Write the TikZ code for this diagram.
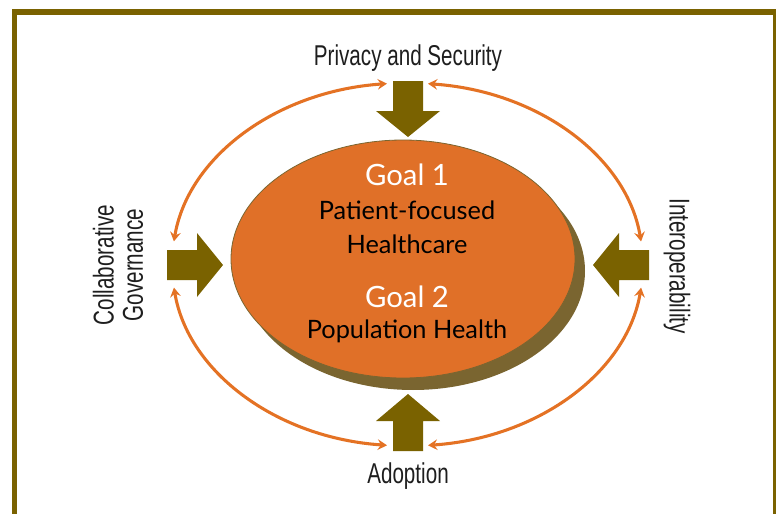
\documentclass[tikz,border=0pt]{standalone}
\usepackage{fontspec}
\setmainfont{Lato}
\newfontfamily\labelfont[FakeStretch=0.72]{Liberation Sans}
\usetikzlibrary{arrows.meta,shapes.geometric}

\definecolor{frameolive}{RGB}{122,98,0}
\definecolor{blockolive}{RGB}{122,98,0}
\definecolor{discorange}{RGB}{224,112,40}
\definecolor{discshadow}{RGB}{122,101,48}
\definecolor{ringorange}{RGB}{228,114,36}
\definecolor{labelgray}{RGB}{30,30,30}

\tikzset{
  frame/.style={draw=frameolive, line width=4.1pt},
  blockarrow/.style={fill=blockolive, draw=none},
  disc/.style={ellipse, inner sep=0pt, outer sep=0pt,
    minimum width=258pt, minimum height=178.5pt},
  ring/.style={draw=ringorange, line width=2.3pt,
    {Stealth[length=7pt,width=8pt,inset=2.5pt]}-{Stealth[length=7pt,width=8pt,inset=2.5pt]}},
  outerlabel/.style={font=\labelfont\fontsize{21.5}{24}\selectfont,
    text=labelgray, inner sep=0pt},
  goaltitle/.style={font=\fontsize{22}{26}\selectfont, text=white,
    inner sep=0pt, anchor=base},
  goaltext/.style={font=\fontsize{19}{24}\selectfont, text=black,
    inner sep=0pt, anchor=base},
}

\begin{document}
\begin{tikzpicture}[x=0.75pt, y=-0.75pt]
\useasboundingbox (0,0) rectangle (776,514);

% outer frame (runs past the right and bottom page edges)
\draw[frame] (14.5,12) rectangle (775.5,540);

% disc with its offset shadow
\node[disc, fill=discshadow] (shadow) at (413,271) {};
\node[disc, fill=discorange, draw=discshadow, line width=0.6pt] (disc) at (403,259) {};

% goal texts
\node[goaltitle] (goal1) at (407,185) {Goal 1};
\node[goaltext] (goal1a) at (407,219) {Patient-focused};
\node[goaltext] (goal1b) at (407,253) {Healthcare};
\node[goaltitle] (goal2) at (407,307) {Goal 2};
\node[goaltext] (goal2a) at (407,338) {Population Health};

% block arrows pointing at the disc
\fill[blockarrow] (393,81) -- (423,81) -- (423,111) -- (440,111) -- (408,137)
  -- (376,111) -- (393,111) -- cycle;
\fill[blockarrow] (393,451) -- (423,451) -- (423,421) -- (440,421) -- (408,394)
  -- (376,421) -- (393,421) -- cycle;
\fill[blockarrow] (167,250) -- (197,250) -- (197,233) -- (223,265) -- (197,297)
  -- (197,280) -- (167,280) -- cycle;
\fill[blockarrow] (649,250) -- (619,250) -- (619,233) -- (593,265) -- (619,297)
  -- (619,280) -- (649,280) -- cycle;

% outer labels
\node[outerlabel, anchor=base] (privacy) at (408,65) {Privacy and Security};
\node[outerlabel, anchor=base] (adoption) at (408,483) {Adoption};
\node[outerlabel, rotate=90, align=center] (governance) at (118,265)
  {Collaborative\\[-2pt]Governance};
\node[outerlabel, rotate=-90] (interop) at (677,266) {Interoperability};

% ring of double-headed arcs between the block arrows
\coordinate (ringTL) at (173.9,241.4);
\coordinate (ringTR) at (428.0,83.7);
\coordinate (ringBR) at (641.1,287.6);
\coordinate (ringBL) at (387.0,445.3);
\draw[ring] (ringTL) arc[start angle=187.3, end angle=265, x radius=235.5, y radius=181.5];
\draw[ring] (ringTR) arc[start angle=275, end angle=352.7, x radius=235.5, y radius=181.5];
\draw[ring] (ringBR) arc[start angle=7.3, end angle=85, x radius=235.5, y radius=181.5];
\draw[ring] (ringBL) arc[start angle=95, end angle=172.7, x radius=235.5, y radius=181.5];
\end{tikzpicture}
\end{document}
